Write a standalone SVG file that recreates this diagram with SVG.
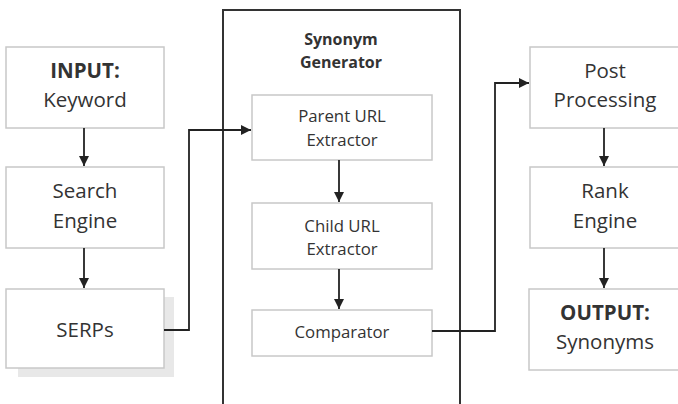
<svg xmlns="http://www.w3.org/2000/svg" width="678" height="404" viewBox="0 0 678 404">
<defs>
<marker id="ah" viewBox="0 0 10 10" refX="10" refY="5" markerWidth="10" markerHeight="10" markerUnits="userSpaceOnUse" orient="auto">
<path d="M0,0 L10,5 L0,10 z" fill="#222"/>
</marker>
<style>
.box{fill:#fff;stroke:#c8c8c8;stroke-width:1.5}
.t{font-family:"Open Sans","Liberation Sans",sans-serif;fill:#333;text-anchor:middle}
.big{font-size:20.5px}
.sm{font-size:16.8px}
.b{font-weight:bold}
.ti{font-size:16px}
.c{fill:none;stroke:#222;stroke-width:1.8}
</style>
</defs>
<rect width="678" height="404" fill="#fff"/>
<g id="synonym-generator">
<rect x="223" y="10" width="237" height="400" fill="#fff" stroke="#333" stroke-width="2"/>
<text class="t ti b" x="341" y="45">Synonym</text>
<text class="t ti b" x="341" y="68">Generator</text>
</g>
<g id="input">
<rect class="box" x="6" y="47" width="158" height="81"/>
<text class="t big b" x="85" y="78">INPUT:</text>
<text class="t big" x="85" y="107">Keyword</text>
</g>
<g id="search-engine">
<rect class="box" x="6" y="167" width="158" height="81"/>
<text class="t big" x="85" y="198">Search</text>
<text class="t big" x="85" y="228">Engine</text>
</g>
<g id="serps">
<rect x="18" y="297" width="156" height="80" fill="#e8e8e8"/>
<rect class="box" x="6" y="289" width="158" height="79"/>
<text class="t big" x="85" y="337">SERPs</text>
</g>
<g id="parent-url">
<rect class="box" x="252" y="95" width="180" height="65"/>
<text class="t sm" x="342" y="122">Parent URL</text>
<text class="t sm" x="342" y="146">Extractor</text>
</g>
<g id="child-url">
<rect class="box" x="252" y="203" width="180" height="66"/>
<text class="t sm" x="342" y="232">Child URL</text>
<text class="t sm" x="342" y="255">Extractor</text>
</g>
<g id="comparator">
<rect class="box" x="252" y="310" width="180" height="46"/>
<text class="t sm" x="342" y="338">Comparator</text>
</g>
<g id="post-processing">
<rect class="box" x="530" y="47" width="150" height="81"/>
<text class="t big" x="605" y="78">Post</text>
<text class="t big" x="605" y="107">Processing</text>
</g>
<g id="rank-engine">
<rect class="box" x="530" y="167" width="150" height="81"/>
<text class="t big" x="605" y="198">Rank</text>
<text class="t big" x="605" y="228">Engine</text>
</g>
<g id="output">
<rect class="box" x="529" y="289" width="151" height="81"/>
<text class="t big b" x="605" y="320">OUTPUT:</text>
<text class="t big" x="605" y="349">Synonyms</text>
</g>
<g id="connectors">
<line class="c" x1="84" y1="128" x2="84" y2="166" marker-end="url(#ah)"/>
<line class="c" x1="84" y1="248" x2="84" y2="288" marker-end="url(#ah)"/>
<polyline class="c" points="164,330 189,330 189,130 251,130" marker-end="url(#ah)"/>
<line class="c" x1="339" y1="160" x2="339" y2="202" marker-end="url(#ah)"/>
<line class="c" x1="339" y1="269" x2="339" y2="309" marker-end="url(#ah)"/>
<polyline class="c" points="432,331 495,331 495,83 529,83" marker-end="url(#ah)"/>
<line class="c" x1="604" y1="128" x2="604" y2="166" marker-end="url(#ah)"/>
<line class="c" x1="604" y1="248" x2="604" y2="288" marker-end="url(#ah)"/>
</g>
</svg>
